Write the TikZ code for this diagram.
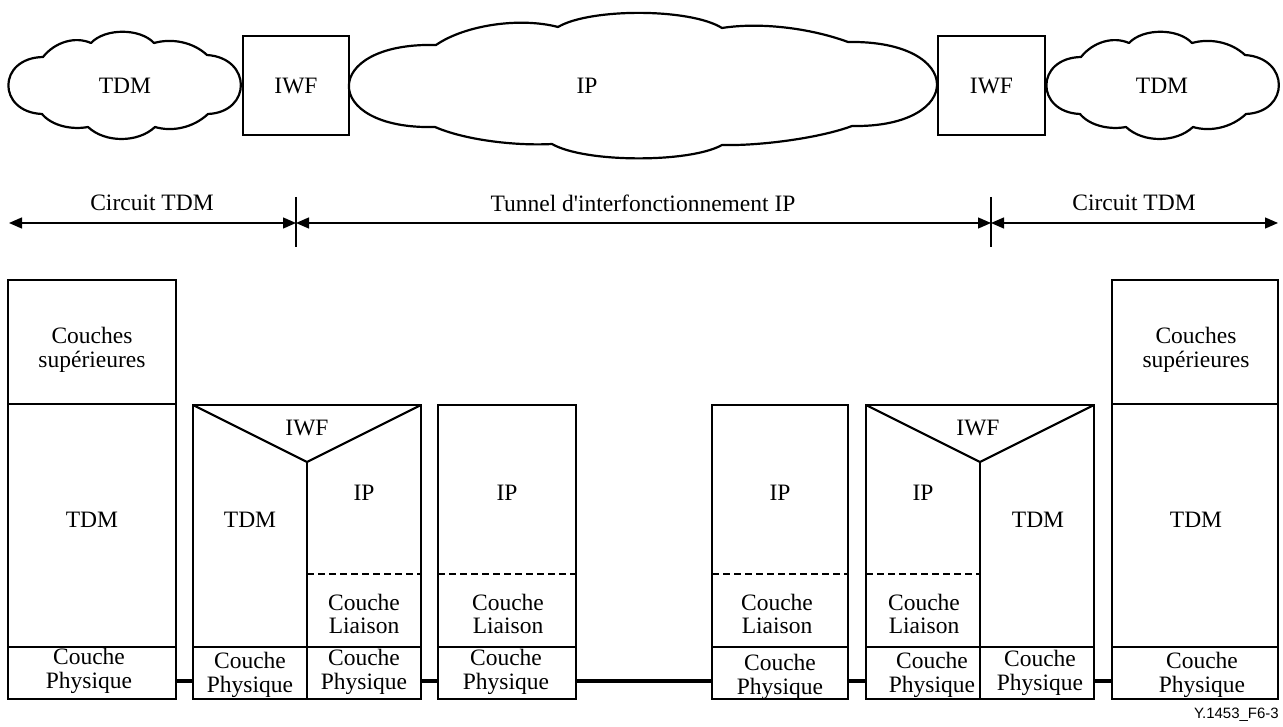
\documentclass[tikz,border=0pt]{standalone}
\usepackage{fontspec}
\setmainfont{Liberation Serif}
\newfontfamily\labelsans{Liberation Sans}
\newfontfamily\plainquote[Ligatures=ResetAll]{Liberation Serif}
\usetikzlibrary{arrows.meta}
\begin{document}
\begin{tikzpicture}[x=1pt,y=-1pt,
  txt/.style={font=\fontsize{23.5}{23.5}\selectfont, align=center, inner sep=0pt},
  cloudline/.style={line width=2.2pt, line join=round},
  box/.style={draw, line width=2.2pt, rectangle, inner sep=0pt},
  thin2/.style={line width=2.2pt},
  conn/.style={line width=4pt},
  dim/.style={line width=1.3pt, {Triangle[length=13pt,width=11pt]}-{Triangle[length=13pt,width=11pt]}},
  tickline/.style={line width=1.3pt},
  dashline/.style={line width=2.2pt, dash pattern=on 7pt off 4pt}
]
\useasboundingbox (0,0) rectangle (1283,727);

% ---------- top row: clouds and IWF boxes ----------
\draw[cloudline] (42,114) .. controls (-3,112) and (-3,58) .. (43,57)
  .. controls (55,42) and (75,36) .. (91,43)
  .. controls (105,28) and (140,28) .. (154,43)
  .. controls (172,38) and (193,42) .. (207,55)
  .. controls (252,58) and (252,112) .. (208,114)
  .. controls (193,128) and (172,132) .. (155,127)
  .. controls (138,143) and (105,143) .. (88,127)
  .. controls (72,130) and (52,126) .. (42,114) -- cycle;
\begin{scope}[shift={(1038,0)}]
\draw[cloudline] (42,114) .. controls (-3,112) and (-3,58) .. (43,57)
  .. controls (55,42) and (75,36) .. (91,43)
  .. controls (105,28) and (140,28) .. (154,43)
  .. controls (172,38) and (193,42) .. (207,55)
  .. controls (252,58) and (252,112) .. (208,114)
  .. controls (193,128) and (172,132) .. (155,127)
  .. controls (138,143) and (105,143) .. (88,127)
  .. controls (72,130) and (52,126) .. (42,114) -- cycle;
\end{scope}
\draw[cloudline] (435,127) .. controls (320,130) and (320,42) .. (436,45)
  .. controls (465,25) and (520,17) .. (558,27)
  .. controls (590,8) and (690,8) .. (722,28)
  .. controls (760,22) and (810,28) .. (848,42)
  .. controls (966,40) and (966,128) .. (852,126)
  .. controls (820,138) and (760,146) .. (722,145)
  .. controls (690,163) and (585,163) .. (552,144)
  .. controls (515,146) and (465,140) .. (435,127) -- cycle;

\node[txt] (tdmL) at (125,86) {TDM};
\node[txt] (ipC) at (587,86) {IP};
\node[txt] (tdmR) at (1162,86) {TDM};
\node[box, minimum width=106pt, minimum height=99pt, txt] (iwfL) at (296,85.5) {IWF};
\node[box, minimum width=107pt, minimum height=99pt, txt] (iwfR) at (991.5,85.5) {IWF};

% ---------- dimension arrows ----------
\coordinate (l0) at (9,223);
\coordinate (t1) at (296,223);
\coordinate (t2) at (991,223);
\coordinate (r0) at (1278,223);
\coordinate (t1a) at (296,197);
\coordinate (t1b) at (296,247);
\coordinate (t2a) at (991,197);
\coordinate (t2b) at (991,247);
\draw[tickline] (t1a) -- (t1b);
\draw[tickline] (t2a) -- (t2b);
\draw[dim] (l0) -- (t1);
\draw[dim] (t1) -- (t2);
\draw[dim] (t2) -- (r0);
\node[txt] (lab1) at (152,203) {Circuit TDM};
\node[txt] (lab2) at (643,203) {Tunnel d{\plainquote\char39}interfonctionnement IP};
\node[txt] (lab3) at (1134,203) {Circuit TDM};

% ---------- protocol stacks ----------
\node[box, minimum width=168pt, minimum height=419pt] (s1) at (92,489.5) {};
\node[box, minimum width=228pt, minimum height=294pt] (s2) at (307,552) {};
\node[box, minimum width=138pt, minimum height=294pt] (s3) at (507,552) {};
\node[box, minimum width=136pt, minimum height=294pt] (s4) at (780,552) {};
\node[box, minimum width=228pt, minimum height=294pt] (s5) at (980,552) {};
\node[box, minimum width=166pt, minimum height=419pt] (s6) at (1195,489.5) {};

% stack 1
\draw[thin2] (8,404) -- (176,404);
\draw[thin2] (8,647) -- (176,647);
% stack 2
\draw[thin2, line join=miter] (193,405) -- (307,462) -- (421,405);
\draw[thin2] (307,462) -- (307,699);
\draw[thin2] (193,647) -- (421,647);
\draw[dashline] (307,574) -- (421,574);
% stack 3
\draw[thin2] (438,647) -- (576,647);
\draw[dashline] (438,574) -- (576,574);
% stack 4
\draw[thin2] (712,647) -- (848,647);
\draw[dashline] (712,574) -- (848,574);
% stack 5
\draw[thin2, line join=miter] (866,405) -- (980,462) -- (1094,405);
\draw[thin2] (980,462) -- (980,699);
\draw[thin2] (866,647) -- (1094,647);
\draw[dashline] (866,574) -- (980,574);
% stack 6
\draw[thin2] (1112,404) -- (1278,404);
\draw[thin2] (1112,647) -- (1278,647);

% connectors between stacks
\coordinate (cy) at (0,681);
\draw[conn] (s1.east |- cy) -- (s2.west |- cy);
\draw[conn] (s2.east |- cy) -- (s3.west |- cy);
\draw[conn] (s3.east |- cy) -- (s4.west |- cy);
\draw[conn] (s4.east |- cy) -- (s5.west |- cy);
\draw[conn] (s5.east |- cy) -- (s6.west |- cy);

% texts stack 1
\node[txt] (s1sup) at (92,350) {Couches\\supérieures};
\node[txt] (s1tdm) at (92,520) {TDM};
\node[txt] (s1phy) at (89,671) {Couche\\Physique};
% texts stack 2
\node[txt] (s2iwf) at (307,428) {IWF};
\node[txt] (s2tdm) at (250,520) {TDM};
\node[txt] (s2ip) at (364,493) {IP};
\node[txt] (s2lia) at (364,614) {Couche\\Liaison};
\node[txt] (s2phyA) at (250,675) {Couche\\Physique};
\node[txt] (s2phyB) at (364,672) {Couche\\Physique};
% texts stack 3
\node[txt] (s3ip) at (507,493) {IP};
\node[txt] (s3lia) at (508,614) {Couche\\Liaison};
\node[txt] (s3phy) at (506,672) {Couche\\Physique};
% texts stack 4
\node[txt] (s4ip) at (780,493) {IP};
\node[txt] (s4lia) at (777,614) {Couche\\Liaison};
\node[txt] (s4phy) at (780,677) {Couche\\Physique};
% texts stack 5
\node[txt] (s5iwf) at (978,428) {IWF};
\node[txt] (s5ip) at (923,493) {IP};
\node[txt] (s5tdm) at (1038,520) {TDM};
\node[txt] (s5lia) at (924,614) {Couche\\Liaison};
\node[txt] (s5phyA) at (932,675) {Couche\\Physique};
\node[txt] (s5phyB) at (1040,673) {Couche\\Physique};
% texts stack 6
\node[txt] (s6sup) at (1196,350) {Couches\\supérieures};
\node[txt] (s6tdm) at (1196,520) {TDM};
\node[txt] (s6phy) at (1202,675) {Couche\\Physique};

\node[font=\labelsans\fontsize{15}{15}\selectfont, anchor=east, inner sep=0pt] (figid) at (1279,715) {Y.1453\_F6-3};
\end{tikzpicture}
\end{document}
